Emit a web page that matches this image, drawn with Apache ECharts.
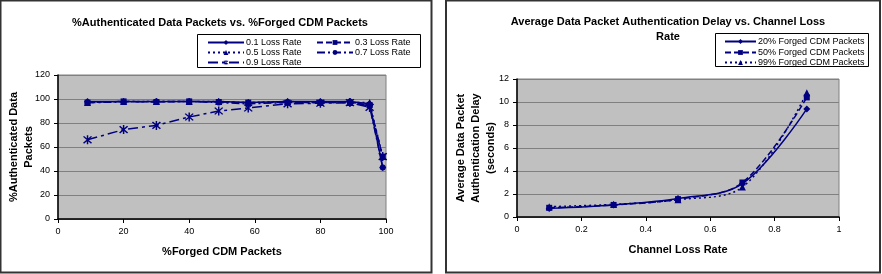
<!DOCTYPE html>
<html lang="en">
<head>
    <meta charset="UTF-8">
    <title>packets</title>
    <script src="https://cdn.jsdelivr.net/npm/echarts@6/dist/echarts.min.js"></script>
    <style>
        html, body { margin: 0; padding: 0; background: #fff; }
        #main { width: 882px; height: 274px; }
    </style>
</head>
<body>
<div id="main"></div>
<script>
    // left chart: % authenticated vs % forged
    var forgedPct = [9, 20, 30, 40, 49, 58, 70, 80, 89, 95, 99];
    var loss01 = [98, 98, 98, 98, 98, 97, 98, 98, 98, 96, 43];
    var loss03 = [97, 98, 97.5, 98, 97.5, 97, 97, 97, 97, 95, 52];
    var loss05 = [97, 98, 98, 98, 98, 97, 98, 97, 97, 97, 52];
    var loss07 = [97, 97.5, 98, 98, 97, 96, 97, 97, 98, 94, 43];
    var loss09 = [66, 74.5, 78, 85, 90, 92.5, 96, 96.5, 97, 93, 52];

    // right chart: delay vs channel loss
    var lossRate = [0.1, 0.3, 0.5, 0.7, 0.9];
    var forged20 = [0.75, 1.05, 1.6, 2.9, 9.4];
    var forged50 = [0.8, 1.05, 1.55, 3.0, 10.4];
    var forged99 = [0.9, 1.1, 1.5, 2.6, 10.8];

    var navy = '#000080';
    var font = 'Liberation Sans, Arial, sans-serif';
    var asterisk = 'path://M-0.7,-5 L0.7,-5 L0.7,5 L-0.7,5Z M-4.3,-3.3 L-3.3,-4.3 L4.3,3.3 L3.3,4.3Z M3.3,-4.3 L4.3,-3.3 L-3.3,4.3 L-4.3,3.3Z';

    function pairs(xs, ys) {
        return xs.map(function (x, i) { return [x, ys[i]]; });
    }

    function mkSeries(name, xs, ys, type, symbol, size, idx, smooth) {
        return {
            name: name,
            type: 'line',
            xAxisIndex: idx,
            yAxisIndex: idx,
            data: pairs(xs, ys),
            symbol: symbol,
            symbolSize: size,
            smooth: smooth || false,
            color: navy,
            itemStyle: {color: navy},
            lineStyle: {color: navy, width: 1.5, type: type},
            animation: false
        };
    }

    function legendAt(name, left, top, w) {
        return {
            data: [name],
            left: left,
            top: top,
            itemWidth: w,
            itemHeight: 6,
            itemGap: 2,
            textStyle: {fontFamily: font, fontSize: 9, color: '#000', padding: [0, 0, 0, -3]},
            padding: 0
        };
    }

    function axisBase() {
        return {
            type: 'value',
            axisLine: {show: true, lineStyle: {color: '#000', width: 1.5}},
            axisTick: {show: true, length: 4, lineStyle: {color: '#000'}},
            axisLabel: {fontFamily: font, fontSize: 9, color: '#000', margin: 8},
            nameTextStyle: {fontFamily: font, fontSize: 11, fontWeight: 'bold', color: '#000', lineHeight: 15},
            nameLocation: 'middle',
            nameMoveOverlap: false
        };
    }

    var chart = echarts.init(document.getElementById('main'));

    var xL = axisBase();
    Object.assign(xL, {gridIndex: 0, min: 0, max: 100, interval: 20, name: '%Forged CDM Packets', nameGap: 25,
        splitLine: {show: false}});
    var yL = axisBase();
    Object.assign(yL, {gridIndex: 0, min: 0, max: 120, interval: 20, name: '%Authenticated Data\nPackets', nameGap: 22,
        splitLine: {show: true, lineStyle: {color: '#808080', width: 1}}});
    var xR = axisBase();
    Object.assign(xR, {gridIndex: 1, min: 0, max: 1, interval: 0.2, name: 'Channel Loss Rate', nameGap: 25,
        splitLine: {show: false}});
    var yR = axisBase();
    Object.assign(yR, {gridIndex: 1, min: 0, max: 12, interval: 2, name: 'Average Data Packet\nAuthentication Delay\n(seconds)', nameGap: 19,
        splitLine: {show: true, lineStyle: {color: '#808080', width: 1}}});

    var option = {
        backgroundColor: '#fff',
        animation: false,
        title: [
            {
                text: '%Authenticated Data Packets vs. %Forged CDM Packets',
                left: 215, top: 12, textAlign: 'center',
                textStyle: {fontFamily: font, fontSize: 11, fontWeight: 'bold', color: '#000'}
            },
            {
                text: 'Average Data Packet Authentication Delay vs. Channel Loss\nRate',
                left: 663, top: 9, textAlign: 'center',
                textStyle: {fontFamily: font, fontSize: 11, fontWeight: 'bold', color: '#000', lineHeight: 15}
            }
        ],
        legend: [
            legendAt('0.1 Loss Rate', 207, 38, 36),
            legendAt('0.3 Loss Rate', 316, 38, 36),
            legendAt('0.5 Loss Rate', 207, 48, 36),
            legendAt('0.7 Loss Rate', 316, 48, 36),
            legendAt('0.9 Loss Rate', 207, 58, 36),
            legendAt('20% Forged CDM Packets', 724, 37, 31),
            legendAt('50% Forged CDM Packets', 724, 48, 31),
            legendAt('99% Forged CDM Packets', 724, 58, 31)
        ],
        grid: [
            {left: 58, top: 75, width: 328, height: 144, show: true, backgroundColor: '#c0c0c0', borderColor: '#808080', borderWidth: 1},
            {left: 517, top: 79, width: 322, height: 138, show: true, backgroundColor: '#c0c0c0', borderColor: '#808080', borderWidth: 1}
        ],
        xAxis: [xL, xR],
        yAxis: [yL, yR],
        graphic: [
            {type: 'rect', shape: {x: 0.5, y: 0.5, width: 431, height: 272}, style: {fill: 'none', stroke: '#333', lineWidth: 2}, silent: true},
            {type: 'rect', shape: {x: 446, y: 0.5, width: 434, height: 272}, style: {fill: 'none', stroke: '#333', lineWidth: 2}, silent: true},
            {type: 'rect', shape: {x: 197.5, y: 34.5, width: 223, height: 33}, style: {fill: 'none', stroke: '#000', lineWidth: 1}, silent: true},
            {type: 'rect', shape: {x: 715.5, y: 33.5, width: 153, height: 33}, style: {fill: 'none', stroke: '#000', lineWidth: 1}, silent: true}
        ],
        series: [
            mkSeries('0.1 Loss Rate', forgedPct, loss01, 'solid', 'diamond', 7, 0),
            mkSeries('0.3 Loss Rate', forgedPct, loss03, [6, 3], 'rect', 6, 0),
            mkSeries('0.5 Loss Rate', forgedPct, loss05, [2, 3], 'triangle', 7, 0),
            mkSeries('0.7 Loss Rate', forgedPct, loss07, [8, 3, 2, 3], 'circle', 6, 0),
            mkSeries('0.9 Loss Rate', forgedPct, loss09, [10, 4, 3, 4], asterisk, 9, 0),
            mkSeries('20% Forged CDM Packets', lossRate, forged20, 'solid', 'diamond', 7, 1, 0.35),
            mkSeries('50% Forged CDM Packets', lossRate, forged50, [6, 3], 'rect', 6, 1, 0.35),
            mkSeries('99% Forged CDM Packets', lossRate, forged99, [2, 3], 'triangle', 7, 1, 0.35)
        ]
    };
    chart.setOption(option);
</script>
</body>
</html>
